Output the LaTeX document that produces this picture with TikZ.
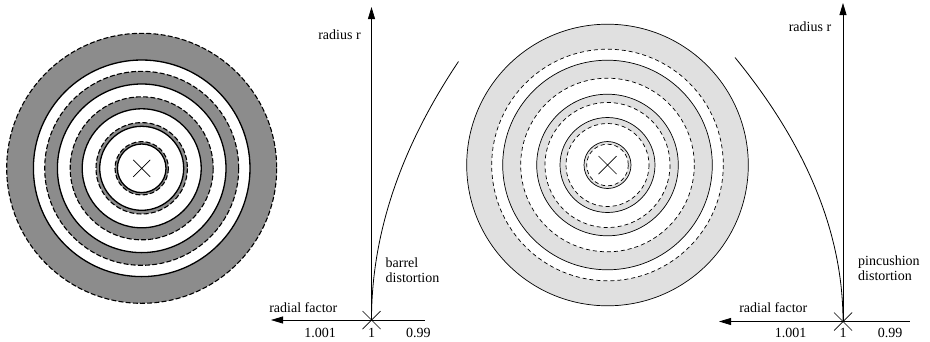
\documentclass[tikz,border=0pt]{standalone}
\usepackage{fontspec}
\setmainfont{Liberation Serif}
\usetikzlibrary{arrows.meta,calc}
\definecolor{darkfill}{RGB}{140,140,140}
\definecolor{lightfill}{RGB}{224,224,224}
\begin{document}
\begin{tikzpicture}[x=1pt,y=-1pt,
  lbl/.style={font=\fontsize{14}{15}\selectfont, inner sep=0pt},
  twoline/.style={lbl, align=left, anchor=west},
  axisline/.style={line width=0.8pt, -{Triangle[length=12pt,width=7pt]}},
  plainaxis/.style={line width=0.8pt},
  solidA/.style={line width=1.3pt},
  dashA/.style={line width=1.1pt, dash pattern=on 5pt off 2.2pt},
  solidB/.style={line width=0.7pt},
  dashB/.style={line width=0.7pt, dash pattern=on 4pt off 3pt},
  crossmark/.style={line width=0.7pt},
  curveline/.style={line width=0.8pt}]
\useasboundingbox (0,0) rectangle (930,341);

% ---------- left target (barrel) ----------
\coordinate (cA) at (141.7,168.3);
\fill[darkfill, even odd rule] (cA) circle[radius=135] circle[radius=108.3]
  circle[radius=97] circle[radius=84.3] circle[radius=71.5] circle[radius=59.5]
  circle[radius=45.7] circle[radius=42] circle[radius=26.7] circle[radius=24.3];
\foreach \r in {108.3,84.3,59.5,42,24.3} \draw[solidA] (cA) circle[radius=\r];
\foreach \r in {135,97,71.5,45.7,26.7} \draw[dashA] (cA) circle[radius=\r];
\draw[crossmark] ($(cA)+(-8.5,-8.5)$) -- ($(cA)+(8.5,8.5)$)
                 ($(cA)+(-8.5,8.5)$) -- ($(cA)+(8.5,-8.5)$);

% ---------- right target (pincushion) ----------
\coordinate (cB) at (607.5,165);
\fill[lightfill, even odd rule] (cB) circle[radius=140.8] circle[radius=115.8]
  circle[radius=104.8] circle[radius=86.8] circle[radius=70.8] circle[radius=62.5]
  circle[radius=47.5] circle[radius=41.5] circle[radius=23.5] circle[radius=20.8];
\foreach \r in {140.8,104.8,70.8,47.5,23.5} \draw[solidB] (cB) circle[radius=\r];
\foreach \r in {115.8,86.8,62.5,41.5,20.8} \draw[dashB] (cB) circle[radius=\r];
\draw[crossmark] ($(cB)+(-9,-9)$) -- ($(cB)+(9,9)$)
                 ($(cB)+(-9,9)$) -- ($(cB)+(9,-9)$);

% ---------- graph 1 : barrel ----------
\coordinate (o1) at (371.5,320);
\coordinate (t1) at (371.5,7);
\coordinate (l1) at (271,320);
\coordinate (r1) at (425,320);
\coordinate (e1) at (458.5,61.5);
\draw[axisline] (o1) -- (t1);
\draw[axisline] (o1) -- (l1);
\draw[plainaxis] (o1) -- (r1);
\draw[curveline] (o1) .. controls ($(o1)+(0,-86)$) and ($(o1)+(29,-172)$) .. (e1);
\draw[crossmark] ($(o1)+(-9,-9)$) -- ($(o1)+(9,9)$)
                 ($(o1)+(-9,9)$) -- ($(o1)+(9,-9)$);
\node[lbl] (rr1) at (339.5,35) {radius r};
\node[twoline] (bd1) at (385.5,270) {barrel\\distortion};
\node[lbl] (rf1) at (303.3,307.5) {radial factor};
\node[lbl] (v11) at (320,333) {1.001};
\node[lbl] (v12) at (371.5,333) {1};
\node[lbl] (v13) at (418.3,333) {0.99};

% ---------- graph 2 : pincushion ----------
\coordinate (o2) at (843,321.5);
\coordinate (t2) at (843,3);
\coordinate (l2) at (719,321.5);
\coordinate (r2) at (910,321.5);
\coordinate (e2) at (735,57.5);
\draw[axisline] (o2) -- (t2);
\draw[axisline] (o2) -- (l2);
\draw[plainaxis] (o2) -- (r2);
\draw[curveline] (o2) .. controls ($(o2)+(0,-88)$) and ($(o2)+(-36,-176)$) .. (e2);
\draw[crossmark] ($(o2)+(-9,-9)$) -- ($(o2)+(9,9)$)
                 ($(o2)+(-9,9)$) -- ($(o2)+(9,-9)$);
\node[lbl] (rr2) at (810,27) {radius r};
\node[twoline] (pd2) at (858,268) {pincushion\\distortion};
\node[lbl] (rf2) at (773.3,307.5) {radial factor};
\node[lbl] (v21) at (790.7,333) {1.001};
\node[lbl] (v22) at (843,333) {1};
\node[lbl] (v23) at (890,333) {0.99};
\end{tikzpicture}
\end{document}
